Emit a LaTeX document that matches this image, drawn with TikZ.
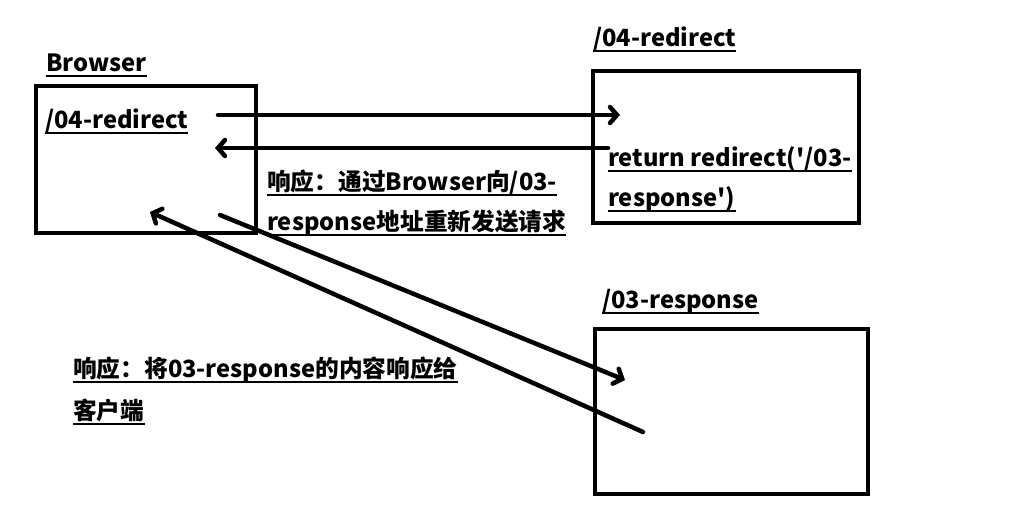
\documentclass[tikz,border=0pt]{standalone}
\usepackage{fontspec}
\setmainfont{Noto Sans CJK SC}
\usetikzlibrary{arrows.meta}
\tikzset{
  txt/.style={anchor=base west,inner sep=0pt,font=\bfseries\fontsize{23.7}{26}\selectfont},
  ul/.style={line width=2pt},
  boxline/.style={draw,line width=4.5pt},
  conn/.style={line width=4.5pt,line cap=round,-{Straight Barb[length=7pt,width=16pt,line cap=round]}}
}
\newcommand{\utext}[3]{\node[txt] (#1) at (#2) {#3};
  \draw[ul] ([yshift=-4.5pt]#1.base west) -- ([yshift=-4.5pt]#1.base east);}
\begin{document}
\begin{tikzpicture}[x=1pt,y=-1pt]
\useasboundingbox[fill=white] (0,0) rectangle (1018,528);
% boxes
\node[boxline,minimum width=220pt,minimum height=147pt,inner sep=0pt] (browser) at (146,159.5) {};
\node[boxline,minimum width=266pt,minimum height=152pt,inner sep=0pt] (redir) at (726,147) {};
\node[boxline,minimum width=273pt,minimum height=165pt,inner sep=0pt] (resp) at (731.5,411.5) {};
% labels
\utext{lbrowser}{46,71}{Browser}
\utext{lredir}{593,46}{/04-redirect}
\utext{lresp}{602,308}{/03-response}
\utext{tinbrowser}{45,128}{/04-redirect}
\utext{tret1}{608,166}{return redirect(\textquotesingle/03-}
\utext{tret2}{608,206}{response\textquotesingle)}
\utext{tmid1}{267,190}{响应：通过Browser向/03-}
\utext{tmid2}{267,230}{response地址重新发送请求}
\utext{tbot1}{73,377}{响应：将03-response的内容响应给}
\utext{tbot2}{73,419}{客户端}
% connector endpoints
\coordinate (a1s) at (218,115);
\coordinate (a1e) at (620,115);
\coordinate (a2s) at (608,148);
\coordinate (a2e) at (215,148);
\coordinate (a3s) at (220,215);
\coordinate (a3e) at (625,380);
\coordinate (a4s) at (643,432);
\coordinate (a4e) at (150,212);
\draw[conn] (a1s) -- (a1e);
\draw[conn] (a2s) -- (a2e);
\draw[conn] (a3s) -- (a3e);
\draw[conn] (a4s) -- (a4e);
\end{tikzpicture}
\end{document}
